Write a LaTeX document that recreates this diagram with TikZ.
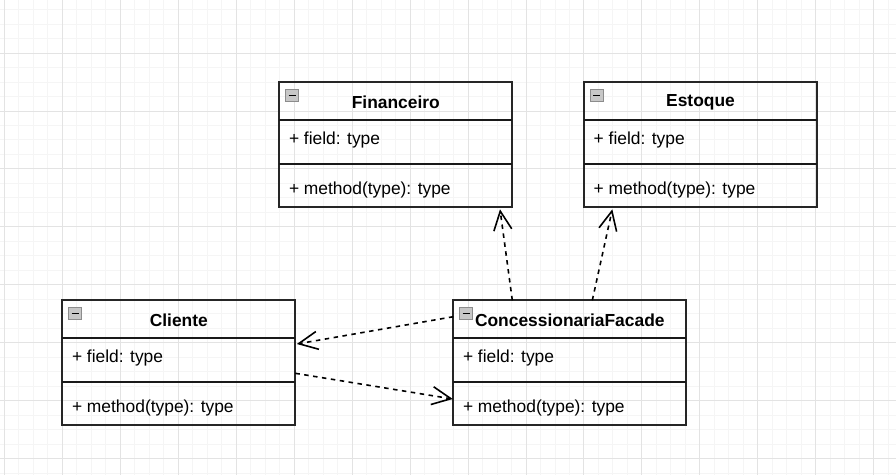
\documentclass[tikz,border=0pt]{standalone}
\usepackage{fontspec}
\setmainfont{Liberation Sans}
\usetikzlibrary{arrows.meta}
\tikzset{
 minorgrid/.style={draw=black!4, line width=0.9pt},
 majorgrid/.style={draw=black!11, line width=0.9pt},
 classbox/.style={draw=black!85, line width=1.9pt, minimum width=233pt, minimum height=125pt, inner sep=0pt, outer sep=0pt},
 classline/.style={draw=black!90, line width=1.9pt},
 classtitle/.style={font=\fontsize{17.4}{20}\selectfont\bfseries, inner sep=0pt},
 member/.style={font=\fontsize{17.4}{20}\selectfont, inner sep=0pt, anchor=west},
 iconbox/.style={draw=black!45, fill=black!22, line width=0.8pt},
 dep/.style={line width=1.6pt, dash pattern=on 4.5pt off 4.5pt, -{Straight Barb[length=19pt,width=18pt]}}
}
\newcommand\umlclass[4]{%
 \node[classbox] (#1) at (#2+116.5,#3+62.5) {};
 \draw[classline] (#2,#3+37.7) -- (#2+233,#3+37.7);
 \draw[classline] (#2,#3+81.7) -- (#2+233,#3+81.7);
 \draw[iconbox] (#2+6.5,#3+7) rectangle (#2+19,#3+19.5);
 \draw[line width=1.6pt] (#2+9.3,#3+13.2) -- (#2+16.2,#3+13.2);
 \node[classtitle] (#1-title) at (#2+116.5,#3+20) {#4};
 \node[member] (#1-field) at (#2+9.5,#3+57.5) {+ field: type};
 \node[member] (#1-method) at (#2+9.5,#3+107.5) {+ method(type): type};
}
\begin{document}
\begin{tikzpicture}[x=1pt,y=-1pt]
\fill[white] (0,0) rectangle (896,475);
\useasboundingbox (0,0) rectangle (896,475);
\foreach \i in {-4,...,57} \draw[minorgrid] ({62.3+\i*14.49},0) -- ({62.3+\i*14.49},475);
\foreach \j in {-3,...,29} \draw[minorgrid] (0,{53+\j*14.49}) -- (896,{53+\j*14.49});
\foreach \i in {-1,...,14} \draw[majorgrid] ({62.3+\i*57.96},0) -- ({62.3+\i*57.96},475);
\foreach \j in {0,...,7} \draw[majorgrid] (0,{53+\j*57.96}) -- (896,{53+\j*57.96});

\umlclass{fin}{279.3}{82.3}{Financeiro}
\umlclass{est}{584}{82.3}{Estoque}
\umlclass{cli}{62.3}{300.3}{Cliente}
\umlclass{fac}{453.3}{300.3}{ConcessionariaFacade}

\draw[dep] ([xshift=59pt]fac.north west) -- ([xshift=220.7pt,yshift=-2pt]fin.south west);
\draw[dep] ([xshift=139pt]fac.north west) -- ([xshift=28.3pt,yshift=-2pt]est.south west);
\draw[dep] ([yshift=-16.4pt]fac.north west) -- ([xshift=1.5pt,yshift=-43.7pt]cli.north east);
\draw[dep] ([yshift=-73pt]cli.north east) -- ([xshift=-0.5pt,yshift=-98.7pt]fac.north west);
\end{tikzpicture}
\end{document}
